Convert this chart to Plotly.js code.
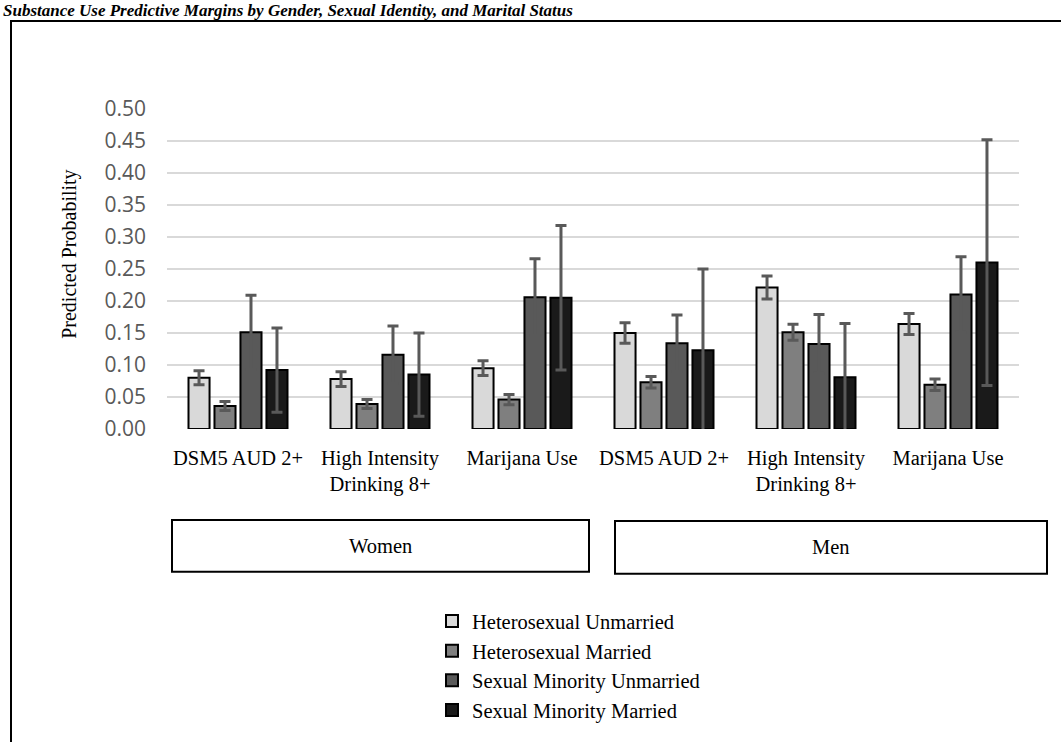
<!DOCTYPE html>
<html>
<head>
<meta charset="utf-8">
<script src="https://cdn.plot.ly/plotly-3.0.1.min.js"></script>
<style>html,body{margin:0;padding:0;background:#fff;}#chart{width:1061px;height:742px;}</style>
</head>
<body>
<div id="chart"></div>
<script>
// ---- Data ----
var categoryKeys = ["W_AUD", "W_HID", "W_MJ", "M_AUD", "M_HID", "M_MJ"];
var categoryLabels = ["DSM5 AUD 2+", "High Intensity<br>Drinking 8+", "Marijana Use", "DSM5 AUD 2+", "High Intensity<br>Drinking 8+", "Marijana Use"];
var genderLabels = ["Women", "Men"];
var seriesNames = ["Heterosexual Unmarried", "Heterosexual Married", "Sexual Minority Unmarried", "Sexual Minority Married"];

var hetUnmarried = [0.080, 0.078, 0.095, 0.150, 0.221, 0.164];
var hetMarried = [0.036, 0.039, 0.046, 0.073, 0.151, 0.069];
var smUnmarried = [0.151, 0.116, 0.206, 0.134, 0.133, 0.210];
var smMarried = [0.092, 0.085, 0.205, 0.123, 0.081, 0.260];

var hetUnmarriedErr = [0.011, 0.0115, 0.0115, 0.016, 0.018, 0.0165];
var hetMarriedErr = [0.007, 0.007, 0.008, 0.009, 0.0125, 0.009];
var smUnmarriedErr = [0.058, 0.045, 0.060, 0.044, 0.046, 0.059];
var smMarriedErr = [0.066, 0.065, 0.113, 0.127, 0.084, 0.192];

var yTicks = [0, 0.05, 0.10, 0.15, 0.20, 0.25, 0.30, 0.35, 0.40, 0.45, 0.50];

// ---- Styling ----
var fills = ["#d9d9d9", "#7f7f7f", "#595959", "#1a1a1a"];
var serif = "'Liberation Serif', 'Times New Roman', serif";
var values = [hetUnmarried, hetMarried, smUnmarried, smMarried];
var errs = [hetUnmarriedErr, hetMarriedErr, smUnmarriedErr, smMarriedErr];

var traces = seriesNames.map(function (name, i) {
  return {
    type: "bar",
    name: name,
    x: categoryKeys,
    y: values[i],
    marker: { color: fills[i], line: { color: "#000000", width: 2 } },
    error_y: { type: "data", array: errs[i], visible: true, color: "#595959", thickness: 3, width: 5.5 },
    hoverinfo: "y+name"
  };
});

// plot area in px
var L = 167, R = 1019, T = 109, B = 436, W = 1061, H = 742;
function px(x) { return (x - L) / (R - L); }
function py(y) { return (B - y) / (B - T); }

var shapes = [
  // outer frame
  { type: "rect", xref: "paper", yref: "paper", x0: px(11), x1: px(1100), y0: py(19), y1: py(800), line: { color: "#000", width: 2 }, fillcolor: "rgba(0,0,0,0)" },
  // gender boxes
  { type: "rect", xref: "paper", yref: "paper", x0: px(172), x1: px(589), y0: py(529), y1: py(582), line: { color: "#000", width: 2 }, fillcolor: "rgba(0,0,0,0)" },
  { type: "rect", xref: "paper", yref: "paper", x0: px(615), x1: px(1047), y0: py(530), y1: py(584), line: { color: "#000", width: 2 }, fillcolor: "rgba(0,0,0,0)" }
];

var annotations = [
  { text: "Substance Use Predictive Margins by Gender, Sexual Identity, and Marital Status", xref: "paper", yref: "paper", x: px(1), y: py(8), xanchor: "left", yanchor: "middle", showarrow: false, font: { family: serif, size: 17, color: "#000", weight: "bold", style: "italic" } },
  { text: "Predicted Probability", xref: "paper", yref: "paper", x: px(70), y: py(258), xanchor: "center", yanchor: "middle", textangle: -90, showarrow: false, font: { family: serif, size: 20, color: "#000" } },
  { text: genderLabels[0], xref: "paper", yref: "paper", x: px(380.5), y: py(556), xanchor: "center", yanchor: "middle", showarrow: false, font: { family: serif, size: 20.5, color: "#000" } },
  { text: genderLabels[1], xref: "paper", yref: "paper", x: px(831), y: py(557), xanchor: "center", yanchor: "middle", showarrow: false, font: { family: serif, size: 20.5, color: "#000" } }
];

var layout = {
  width: W, height: H,
  margin: { l: L, r: W - R, t: T, b: H - B, pad: 0 },
  paper_bgcolor: "#ffffff", plot_bgcolor: "#ffffff",
  barmode: "group", bargap: 0.268, bargroupgap: 0.19,
  showlegend: true,
  legend: {
    orientation: "v", x: px(432), y: py(612), xanchor: "left", yanchor: "top",
    font: { family: serif, size: 20.5, color: "#000" }, traceorder: "normal",
    bgcolor: "rgba(0,0,0,0)", itemwidth: 30
  },
  xaxis: {
    type: "category", tickmode: "array", tickvals: categoryKeys, ticktext: categoryLabels,
    showgrid: false, showline: false, zeroline: false, ticks: "",
    ticklabelstandoff: 14,
    tickfont: { family: serif, size: 20.5, color: "#000" }, fixedrange: true
  },
  yaxis: {
    range: [0, 0.5], tickmode: "array", tickvals: yTicks, tickformat: ".2f",
    showgrid: true, gridcolor: "#d9d9d9", gridwidth: 2, zeroline: false, showline: false, ticks: "",
    ticklabelstandoff: 20,
    tickfont: { family: "'Open Sans', sans-serif", size: 21, color: "#595959" }, fixedrange: true
  },
  shapes: shapes,
  annotations: annotations
};

Plotly.newPlot("chart", traces, layout, { displayModeBar: false, staticPlot: true });
</script>
</body>
</html>
